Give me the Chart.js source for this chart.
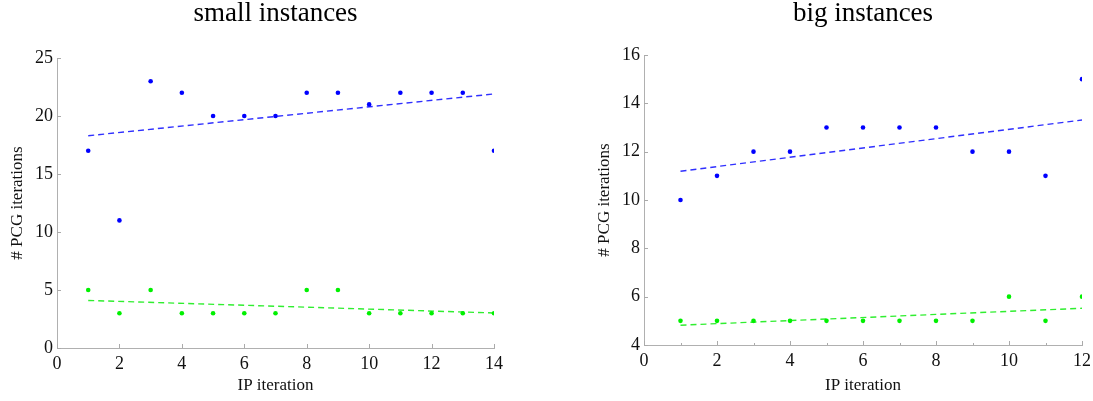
<!DOCTYPE html>
<html>
<head>
<meta charset="utf-8">
<script src="https://cdn.jsdelivr.net/npm/chart.js@4"></script>
<style>
  html, body { margin: 0; background: #fff; overflow: hidden; }
  .box { position: absolute; top: 0; height: 401px; }
  #boxSmall { left: 0; width: 510px; }
  #boxBig { left: 560px; width: 536px; }
</style>
</head>
<body>
<div class="box" id="boxSmall"><canvas id="small"></canvas></div>
<div class="box" id="boxBig"><canvas id="big"></canvas></div>
<script>
// small instances
const iterSmall = [1, 2, 3, 4, 5, 6, 7, 8, 9, 10, 11, 12, 13, 14];
const blueSmall = [17, 11, 23, 22, 20, 20, 20, 22, 22, 21, 22, 22, 22, 17];
const greenSmall = [5, 3, 5, 3, 3, 3, 3, 5, 5, 3, 3, 3, 3, 3];
const trendXSmall = [1, 14];
const trendBlueSmall = [18.3, 21.9];
const trendGreenSmall = [4.1, 3.02];

// big instances
const iterBig = [1, 2, 3, 4, 5, 6, 7, 8, 9, 10, 11, 12];
const blueBig = [10, 11, 12, 12, 13, 13, 13, 13, 12, 12, 11, 15];
const greenBig = [5, 5, 5, 5, 5, 5, 5, 5, 5, 6, 5, 6];
const trendXBig = [1, 12];
const trendBlueBig = [11.19, 13.31];
const trendGreenBig = [4.82, 5.52];

const serif = '"Liberation Serif", "Times New Roman", serif';

function pts(xs, ys) {
    return xs.map((x, i) => ({ x: x, y: ys[i] }));
}

// tick marks pointing into the plot, like the original figure
const innerTicks = {
    id: 'innerTicks',
    afterDraw(chart, args, o) {
        const ctx = chart.ctx;
        const xs = chart.scales.x, ys = chart.scales.y;
        ctx.save();
        ctx.strokeStyle = '#aaa';
        ctx.lineWidth = 1;
        ctx.beginPath();
        xs.ticks.forEach(t => {
            const px = Math.round(xs.getPixelForValue(t.value)) + 0.5;
            ctx.moveTo(px, ys.bottom);
            ctx.lineTo(px, ys.bottom - 4);
        });
        if (o.minorX) {
            xs.ticks.forEach(t => {
                const v = t.value + o.minorX;
                if (v >= xs.max) return;
                const px = Math.round(xs.getPixelForValue(v)) + 0.5;
                ctx.moveTo(px, ys.bottom);
                ctx.lineTo(px, ys.bottom - 2);
            });
        }
        ys.ticks.forEach(t => {
            const py = Math.round(ys.getPixelForValue(t.value)) + 0.5;
            ctx.moveTo(xs.left, py);
            ctx.lineTo(xs.left + 4, py);
        });
        ctx.stroke();
        ctx.restore();
    }
};

function makeChart(id, opts) {
    const ctx = document.getElementById(id);
    new Chart(ctx, {
        type: 'scatter',
        data: {
            datasets: [
                { data: pts(opts.xs, opts.blue), backgroundColor: '#0000ff', borderWidth: 0, pointRadius: 2.3 },
                { data: pts(opts.xs, opts.green), backgroundColor: '#00f000', borderWidth: 0, pointRadius: 2.3 },
                { data: pts(opts.tx, opts.tBlue), showLine: true, borderColor: '#3030ff', borderWidth: 1.4,
                  borderDash: [6, 4], pointRadius: 0, fill: false },
                { data: pts(opts.tx, opts.tGreen), showLine: true, borderColor: '#30ee30', borderWidth: 1.4,
                  borderDash: [6, 4], pointRadius: 0, fill: false }
            ]
        },
        plugins: [innerTicks],
        options: {
            responsive: true,
            maintainAspectRatio: false,
            animation: false,
            layout: { padding: { left: opts.padLeft, right: opts.padRight, top: 0, bottom: 0 } },
            plugins: {
                legend: { display: false },
                tooltip: { enabled: false },
                innerTicks: { minorX: opts.minorX },
                title: {
                    display: true,
                    fullSize: false,
                    text: opts.title,
                    color: '#000',
                    font: { family: serif, size: 27, weight: 'normal', lineHeight: 1.0 },
                    padding: { top: 0, bottom: opts.titleBottom }
                }
            },
            scales: {
                x: {
                    min: 0, max: opts.xMax,
                    afterFit: s => { s.height = opts.xHeight; },
                    ticks: { stepSize: 2, color: '#111', font: { family: serif, size: 18 }, padding: 5 },
                    grid: { drawOnChartArea: false, drawTicks: false },
                    border: { color: '#b0b0b0' },
                    title: { display: true, text: 'IP iteration', color: '#111',
                             font: { family: serif, size: 17 }, padding: { top: 0, bottom: 5 } }
                },
                y: {
                    min: opts.yMin, max: opts.yMax,
                    afterFit: s => { s.width = 57; },
                    ticks: { stepSize: opts.yStep, color: '#111', font: { family: serif, size: 18 }, padding: 4 },
                    grid: { drawOnChartArea: false, drawTicks: false },
                    border: { color: '#b0b0b0' },
                    title: { display: true, text: '# PCG iterations', color: '#111',
                             font: { family: serif, size: 17 }, padding: { top: 7, bottom: 0 } }
                }
            }
        }
    });
}

makeChart('small', {
    title: 'small instances', xs: iterSmall, blue: blueSmall, green: greenSmall,
    tx: trendXSmall, tBlue: trendBlueSmall, tGreen: trendGreenSmall,
    xMax: 14, yMin: 0, yMax: 25, yStep: 5, minorX: 0,
    padLeft: 0, padRight: 16, titleBottom: 31, xHeight: 53
});

makeChart('big', {
    title: 'big instances', xs: iterBig, blue: blueBig, green: greenBig,
    tx: trendXBig, tBlue: trendBlueBig, tGreen: trendGreenBig,
    xMax: 12, yMin: 4, yMax: 16, yStep: 2, minorX: 1,
    padLeft: 27, padRight: 14, titleBottom: 28, xHeight: 56
});
</script>
</body>
</html>
